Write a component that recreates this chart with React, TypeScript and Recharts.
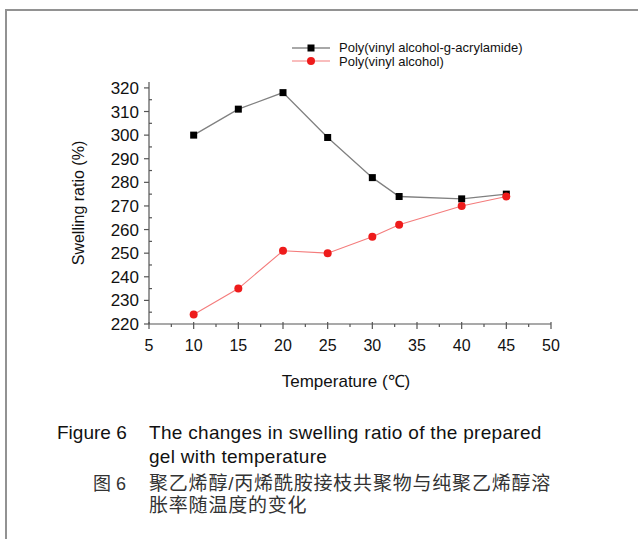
import React from 'react';
import { LineChart, Line, XAxis, YAxis } from 'recharts';

// temperature (°C) and swelling ratio (%)
const temps = [10, 15, 20, 25, 30, 33, 40, 45];
const graftSwelling = [300, 311, 318, 299, 282, 274, 273, 275];
const pvaSwelling = [224, 235, 251, 250, 257, 262, 270, 274];

const xMajorTicks = [5, 10, 15, 20, 25, 30, 35, 40, 45, 50];
const xMinorTicks = [7.5, 12.5, 17.5, 22.5, 27.5, 32.5, 37.5, 42.5, 47.5];
const yMajorTicks = [220, 230, 240, 250, 260, 270, 280, 290, 300, 310, 320];
const yMinorTicks = [225, 235, 245, 255, 265, 275, 285, 295, 305, 315];

const seriesNames = ['Poly(vinyl alcohol-g-acrylamide)', 'Poly(vinyl alcohol)'];

const data = temps.map((t, i) => ({
  temp: t,
  graft: graftSwelling[i],
  pva: pvaSwelling[i],
}));

const FONT = '"Liberation Sans", Arial, Helvetica, sans-serif';
const CJK_FONT = '"Liberation Sans", Arial, "Noto Sans CJK SC", sans-serif';
const AXIS_COLOR = '#555';
const TEXT_COLOR = '#111';

const GRAFT_LINE = '#808080';
const GRAFT_DOT = '#000';
const PVA_LINE = '#f47c7c';
const PVA_DOT = '#ee1b1b';

const XTick = (props: any) => {
  const { x, y, payload } = props;
  const major = xMajorTicks.includes(payload.value);
  return (
    <g>
      <line x1={x} x2={x} y1={major ? y - 2 : y} y2={y + (major ? 5 : 3)} stroke={AXIS_COLOR} strokeWidth={1.2} />
      {major && (
        <text x={x} y={y + 27} textAnchor="middle" fontSize={16} fontFamily={FONT} fill={TEXT_COLOR}>
          {payload.value}
        </text>
      )}
    </g>
  );
};

const YTick = (props: any) => {
  const { x, y, payload } = props;
  const major = yMajorTicks.includes(payload.value);
  return (
    <g>
      <line x1={major ? x - 5 : x} x2={major ? x : x + 3} y1={y} y2={y} stroke={AXIS_COLOR} strokeWidth={1.2} />
      {major && (
        <text x={x - 10} y={y + 6} textAnchor="end" fontSize={17} fontFamily={FONT} fill={TEXT_COLOR}>
          {payload.value}
        </text>
      )}
    </g>
  );
};

const SquareDot = (p: any) => (
  <rect key={`sq-${p.index}`} x={p.cx - 3.5} y={p.cy - 3.5} width={7} height={7} fill={GRAFT_DOT} />
);

const RoundDot = (p: any) => (
  <circle key={`ci-${p.index}`} cx={p.cx} cy={p.cy} r={4} fill={PVA_DOT} />
);

const App = () => {
  return (
    <div
      style={{
        position: 'fixed',
        left: 0,
        top: 0,
        width: 638,
        height: 539,
        background: '#fff',
        overflow: 'hidden',
      }}
    >
      {/* frame of the scanned figure */}
      <div
        style={{
          position: 'absolute',
          left: 5,
          top: 9,
          width: 700,
          height: 600,
          borderTop: '2px solid #929292',
          borderLeft: '2px solid #929292',
        }}
      />

      <div style={{ position: 'absolute', left: 0, top: 0 }}>
        <LineChart width={638} height={400} data={data} margin={{ top: 82, right: 87, bottom: 46, left: 89 }}>
          <XAxis
            type="number"
            dataKey="temp"
            domain={[5, 50]}
            ticks={[...xMajorTicks, ...xMinorTicks].sort((a, b) => a - b)}
            interval={0}
            height={30}
            tickSize={0}
            tickMargin={0}
            tickLine={false}
            tick={<XTick />}
            axisLine={{ stroke: AXIS_COLOR, strokeWidth: 1.2 }}
            label={{
              value: 'Temperature (℃)',
              position: 'bottom',
              offset: 21,
              dx: -4,
              fontSize: 17,
              fontFamily: FONT,
              fill: TEXT_COLOR,
            }}
          />
          <YAxis
            type="number"
            domain={[220, 322.5]}
            allowDataOverflow
            ticks={[...yMajorTicks, ...yMinorTicks].sort((a, b) => a - b)}
            interval={0}
            width={60}
            tickSize={0}
            tickMargin={0}
            tickLine={false}
            tick={<YTick />}
            axisLine={{ stroke: AXIS_COLOR, strokeWidth: 1.2 }}
            label={{
              value: 'Swelling ratio (%)',
              angle: -90,
              position: 'insideLeft',
              offset: -11,
              style: { textAnchor: 'middle' },
              fontSize: 16,
              fontFamily: FONT,
              fill: TEXT_COLOR,
            }}
          />
          <Line
            type="linear"
            dataKey="graft"
            name={seriesNames[0]}
            stroke={GRAFT_LINE}
            strokeWidth={1.3}
            dot={SquareDot}
            activeDot={false}
            isAnimationActive={false}
          />
          <Line
            type="linear"
            dataKey="pva"
            name={seriesNames[1]}
            stroke={PVA_LINE}
            strokeWidth={1.1}
            dot={RoundDot}
            activeDot={false}
            isAnimationActive={false}
          />
        </LineChart>
      </div>

      {/* legend */}
      <svg width={638} height={80} style={{ position: 'absolute', left: 0, top: 0 }}>
        <g>
          <line x1={292} x2={330} y1={48} y2={48} stroke="#a8a8a8" strokeWidth={2} />
          <rect x={307.5} y={44.5} width={7} height={7} fill={GRAFT_DOT} />
          <text x={339} y={52} fontSize={13} fontFamily={FONT} fill={TEXT_COLOR}>
            {seriesNames[0]}
          </text>
        </g>
        <g>
          <line x1={292} x2={330} y1={61} y2={61} stroke={PVA_LINE} strokeWidth={1.1} />
          <circle cx={311} cy={61} r={4} fill={PVA_DOT} />
          <text x={339} y={65.5} fontSize={13} fontFamily={FONT} fill={TEXT_COLOR}>
            {seriesNames[1]}
          </text>
        </g>
      </svg>

      {/* caption */}
      <div style={{ position: 'absolute', left: 57, top: 421, fontFamily: FONT, fontSize: 19, lineHeight: '24px', color: TEXT_COLOR }}>
        Figure 6
      </div>
      <div
        style={{
          position: 'absolute',
          left: 149,
          top: 421,
          width: 460,
          fontFamily: FONT,
          fontSize: 19,
          letterSpacing: 0.3,
          lineHeight: '24px',
          color: TEXT_COLOR,
        }}
      >
        The changes in swelling ratio of the prepared
        <br />
        gel with temperature
      </div>
      <div style={{ position: 'absolute', left: 93, top: 473, fontFamily: CJK_FONT, fontSize: 18, lineHeight: '22px', color: '#333' }}>
        图 6
      </div>
      <div
        style={{
          position: 'absolute',
          left: 149,
          top: 473,
          width: 460,
          fontFamily: CJK_FONT,
          fontSize: 19,
          letterSpacing: 0.8,
          lineHeight: '22px',
          color: '#333',
        }}
      >
        聚乙烯醇/丙烯酰胺接枝共聚物与纯聚乙烯醇溶
        <br />
        胀率随温度的变化
      </div>
    </div>
  );
};

export default App;
